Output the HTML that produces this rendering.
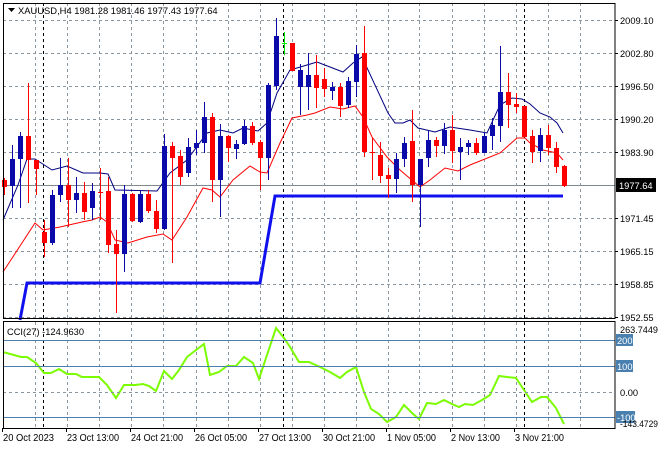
<!DOCTYPE html>
<html><head><meta charset="utf-8"><style>
body{margin:0;background:#fff;}
svg{display:block;font-family:"Liberation Sans",sans-serif;}
</style></head><body>
<svg id="s" width="660" height="450" xmlns="http://www.w3.org/2000/svg">
<rect width="660" height="450" fill="#fff"/>
<g id="grid" stroke="#8a96a0" stroke-dasharray="3,3" stroke-width="1"></g>
<g id="sep" stroke="#000" stroke-dasharray="3,3" stroke-width="1">
<line x1="43.5" y1="3" x2="43.5" y2="318"/><line x1="283.5" y1="3" x2="283.5" y2="318"/><line x1="524.5" y1="3" x2="524.5" y2="318"/>
<line x1="43.5" y1="322" x2="43.5" y2="428"/><line x1="283.5" y1="322" x2="283.5" y2="428"/><line x1="524.5" y1="322" x2="524.5" y2="428"/>
</g>
<line x1="3" y1="185.5" x2="615" y2="185.5" stroke="#808890" stroke-width="1"/>
<polyline fill="none" stroke="#1010ee" stroke-width="3" points="20,320 27,283 260,283 275,196 563,196"/>
<polyline fill="none" stroke="#ff0000" stroke-width="1" points="3,272 35,223 43,230 60,227 82,222 92,220 100,217 107,222 115,240 128,243 147,237 163,234 172,240 187,217 203,188 212,190 220,197 233,180 250,166 260,172 267,173 280,143 292,118 307,115 315,113 330,107 343,109 355,106 363,117 372,137 387,157 400,170 420,187 430,180 445,168 458,171 470,165 500,153 517,138 525,138 530,143 543,150 557,153 563,160"/>
<polyline fill="none" stroke="#000080" stroke-width="1" points="3,220 18,185 27,159 35,159 52,170 67,166 83,173 100,173 108,174 115,190 157,191 170,173 187,160 207,133 220,130 233,133 243,128 258,131 267,123 277,93 290,70 307,65 317,62 330,67 343,72 353,63 362,57 388,113 395,123 403,123 410,120 418,128 435,132 450,127 470,130 487,133 500,105 512,98 522,99 530,104 540,113 550,117 557,123 563,133"/>
<g id="candles"></g>
<polyline fill="none" stroke="#7cfc00" stroke-width="2" points="3,352 21,357 27,357 36,363 44,373 51,373 59,369 67,374 76,374 82,377 99,377 107,385 116,398 124,385 135,385 143,384 149,386 156,391 164,371 172,379 179,370 187,357 196,350 204,344 210,375 219,372 227,366 236,366 244,357 253,363 259,379 276,328 284,338 290,347 299,362 309,362 320,367 330,372 340,378 347,372 356,367 364,392 371,409 379,414 387,422 396,417 404,405 412,413 419,419 427,403 436,404 444,400 452,404 459,407 465,404 473,405 482,400 490,395 499,376 507,377 516,378 524,390 532,402 541,397 547,397 556,408 564,424"/>
<g stroke="#4a80b0" stroke-width="1">
<line x1="3" y1="340.5" x2="615" y2="340.5"/><line x1="3" y1="366.5" x2="615" y2="366.5"/><line x1="3" y1="417.5" x2="615" y2="417.5"/>
</g>
<line x1="3" y1="392.5" x2="615" y2="392.5" stroke="#8a96a0" stroke-dasharray="3,3"/>
<g fill="none" stroke="#000" stroke-width="1">
<rect x="3.5" y="3.5" width="611.5" height="315"/>
<rect x="3.5" y="321.5" width="611.5" height="107"/>
</g>
<g id="lbl" font-size="9.3" fill="#000"></g>
<rect x="616" y="178" width="40" height="14" fill="#000"/>
<text x="619" y="189" font-size="9.3" fill="#fff">1977.64</text>
<rect x="616" y="334" width="17" height="12" fill="#4a80b0"/><text x="617" y="344" font-size="9.3" fill="#fff">200</text>
<rect x="616" y="360" width="17" height="12" fill="#4a80b0"/><text x="617" y="370" font-size="9.3" fill="#fff">100</text>
<rect x="616" y="411" width="19" height="12" fill="#4a80b0"/><text x="617" y="421" font-size="9.3" fill="#fff">-100</text>
<text x="620" y="333" font-size="9.3" textLength="38" lengthAdjust="spacingAndGlyphs">263.7449</text>
<text x="620" y="396" font-size="9.3">0.00</text>
<text x="620" y="427" font-size="9.3" textLength="38" lengthAdjust="spacingAndGlyphs">-143.4729</text>
<polygon points="8,8 15,8 11.5,12" fill="#000"/>
<text x="18" y="14" font-size="9.4">XAUUSD,H4  1981.28 1981.46 1977.43 1977.64</text>
<text x="7" y="335" font-size="9.3">CCI(27) -124.9630</text>
</svg>
<script>
var NS="http://www.w3.org/2000/svg",g=document.getElementById('grid'),L=document.getElementById('lbl'),C=document.getElementById('candles');
function el(p,t,a){var e=document.createElementNS(NS,t);for(var k in a)e.setAttribute(k,a[k]);p.appendChild(e);return e;}
var gx=[35,67,99,131,163,196,228,260,292,324,356,388,419,452,484,516,548,580];
gx.forEach(function(x){el(g,'line',{x1:x+.5,y1:3,x2:x+.5,y2:318});el(g,'line',{x1:x+.5,y1:322,x2:x+.5,y2:428});});
var py=[[20,'2009.10'],[53,'2002.80'],[86,'1996.50'],[119,'1990.20'],[152,'1983.90'],[218,'1971.45'],[251,'1965.15'],[284,'1958.85'],[317,'1952.55']];
py.forEach(function(p){el(g,'line',{x1:3,y1:p[0]+.5,x2:615,y2:p[0]+.5});var t=el(L,'text',{x:620,y:p[0]+4});t.textContent=p[1];el(L,'line',{x1:615,y1:p[0]+.5,x2:618,y2:p[0]+.5,stroke:'#000'});});
var tl=[[3,'20 Oct 2023',51],[67,'23 Oct 13:00',52],[131,'24 Oct 21:00',52],[195,'26 Oct 05:00',52],[259,'27 Oct 13:00',52],[323,'30 Oct 21:00',52],[387,'1 Nov 05:00',49],[451,'2 Nov 13:00',49],[515,'3 Nov 21:00',49]];
tl.forEach(function(p){var t=el(L,'text',{x:p[0],y:441,'font-size':10,textLength:p[2],lengthAdjust:'spacingAndGlyphs'});t.textContent=p[1];el(L,'line',{x1:p[0]-0.5,y1:428,x2:p[0]-0.5,y2:432,stroke:'#000'});});
var R='#ff0000',B='#0a0aaa',G='#00ee00';
var d=[[180,187,178,195,R],[159,186,145,208,B],[136,159,132,208,B],[136,160,83,203,R],[160,169,160,195,R],[232,243,220,257,R],[195,243,190,245,B],[185,195,158,202,B],[185,200,158,227,R],[193,200,177,213,B],[193,212,182,220,R],[191,208,183,220,B],[192,193,168,220,R],[191,245,177,253,R],[244,254,230,313,R],[194,254,185,272,B],[194,221,193,222,R],[194,222,190,223,B],[194,211,190,213,R],[211,229,200,233,R],[146,229,134,230,B],[146,158,142,263,R],[156,177,150,185,R],[147,173,138,177,B],[143,148,130,155,B],[117,143,102,153,B],[117,180,113,202,R],[136,180,124,217,B],[136,148,135,162,R],[144,149,140,159,B],[126,144,120,145,B],[126,143,122,145,R],[142,158,140,190,R],[85,158,83,180,B],[36,86,18,90,B],[43,44,32,55,G],[43,71,43,71,R],[70,87,64,115,B],[75,87,53,110,B],[75,88,55,108,R],[79,89,68,97,R],[87,91,82,100,B],[87,106,83,117,R],[81,105,77,108,B],[54,82,45,97,B],[53,152,26,157,R],[152,153,138,180,R],[155,176,142,183,R],[175,179,168,198,R],[159,179,153,193,B],[143,159,137,167,B],[141,185,110,202,R],[159,185,159,227,B],[140,158,130,167,B],[140,146,137,157,R],[130,146,123,154,B],[130,151,115,163,R],[147,152,138,180,B],[143,147,140,155,B],[143,153,138,155,R],[136,153,133,153,B],[125,136,118,150,B],[92,126,46,142,B],[92,105,73,128,R],[104,107,93,113,R],[106,137,106,137,R],[136,152,130,163,R],[135,151,128,162,B],[135,148,125,155,R],[148,167,142,173,R],[166,186,165,187,R]];
d.forEach(function(c,i){var x=Math.round(3.5+8*i+(i>62?0.5:0));
el(C,'line',{x1:x+.5,y1:c[2],x2:x+.5,y2:c[3],stroke:c[4]});
var h=Math.max(1,c[1]-c[0]);el(C,'rect',{x:x-2,y:c[0],width:5,height:h,fill:c[4]});});
</script>
</body></html>
